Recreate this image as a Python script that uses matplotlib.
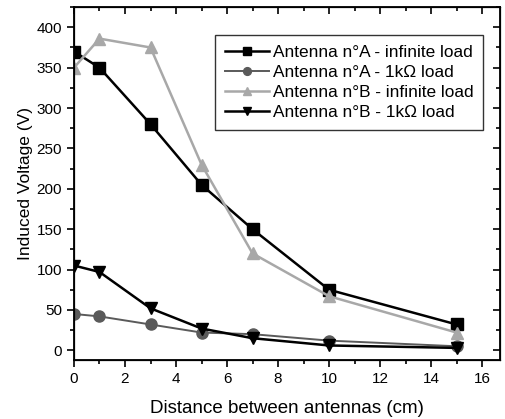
import numpy as np
import matplotlib.pyplot as plt
from matplotlib.ticker import MultipleLocator

plt.rcParams['font.family'] = ['Liberation Sans', 'DejaVu Sans']

# Daten
distance = [0, 1, 3, 5, 7, 10, 15]
a_infinite = [370, 350, 280, 205, 150, 75, 32]
a_1k = [45, 42, 32, 22, 20, 12, 5]
b_infinite = [350, 386, 375, 230, 120, 67, 22]
b_1k = [105, 97, 52, 27, 15, 6, 3]

labels = ["Antenna n°A - infinite load", "Antenna n°A - 1k\u03a9 load",
          "Antenna n°B - infinite load", "Antenna n°B - 1k\u03a9 load"]

fig = plt.figure(figsize=(5.05, 4.19), dpi=100)
ax = fig.add_axes([0.1465, 0.1408, 0.8435, 0.8422])

ax.plot(distance, a_infinite, color='black', lw=1.8, marker='s', ms=8, label=labels[0])
ax.plot(distance, a_1k, color='#5a5a5a', lw=1.4, marker='o', ms=8, label=labels[1])
ax.plot(distance, b_infinite, color='#a8a8a8', lw=1.8, marker='^', ms=9, label=labels[2])
ax.plot(distance, b_1k, color='black', lw=1.8, marker='v', ms=9, label=labels[3])

ax.set_xlim(0, 16.7)
ax.set_ylim(-12, 425)
ax.xaxis.set_major_locator(MultipleLocator(2))
ax.xaxis.set_minor_locator(MultipleLocator(1))
ax.yaxis.set_major_locator(MultipleLocator(50))
ax.yaxis.set_minor_locator(MultipleLocator(25))

ax.tick_params(which='both', direction='out', width=1.2, labelsize=11)
ax.tick_params(which='major', length=5)
ax.tick_params(which='minor', length=3)
for s in ax.spines.values():
    s.set_linewidth(1.3)

# gespiegelte Ticks oben/rechts (nach innen)
ax2 = ax.twinx()
ax2.set_ylim(ax.get_ylim())
ax2.yaxis.set_major_locator(MultipleLocator(50))
ax2.yaxis.set_minor_locator(MultipleLocator(25))
ax2.tick_params(which='both', direction='in', labelright=False, width=1.2)
ax2.tick_params(which='major', length=5)
ax2.tick_params(which='minor', length=3)
ax3 = ax.twiny()
ax3.set_xlim(ax.get_xlim())
ax3.xaxis.set_major_locator(MultipleLocator(2))
ax3.xaxis.set_minor_locator(MultipleLocator(1))
ax3.tick_params(which='both', direction='in', labeltop=False, width=1.2)
ax3.tick_params(which='major', length=5)
ax3.tick_params(which='minor', length=3)

ax.set_xlabel("Distance between antennas (cm)", fontsize=13.5, labelpad=10)
ax.set_ylabel("Induced Voltage (V)", fontsize=12.5, labelpad=3)

leg = ax.legend(loc='upper right', bbox_to_anchor=(0.960, 0.921), borderaxespad=0,
                fontsize=12.4, frameon=True, fancybox=False, edgecolor='black',
                handlelength=2.6, borderpad=0.55, labelspacing=0.3,
                handletextpad=0.2, markerscale=0.7)
leg.get_frame().set_linewidth(1.0)
leg.set_zorder(5)

fig.savefig("out.png", dpi=100)
